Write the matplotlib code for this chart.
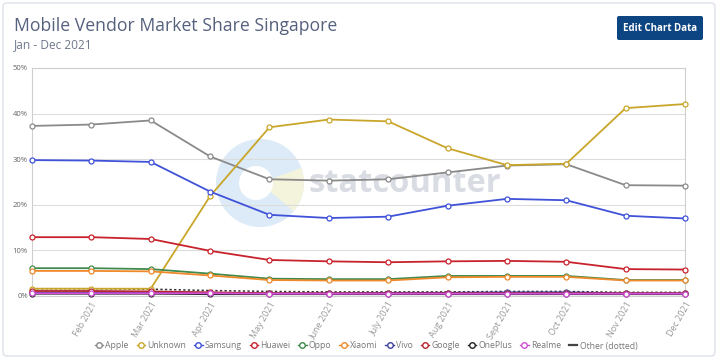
import matplotlib
matplotlib.use("Agg")
import matplotlib.pyplot as plt
from matplotlib.lines import Line2D
from matplotlib.patches import Circle, Wedge, FancyBboxPatch

plt.rcParams["font.family"] = ["Open Sans", "DejaVu Sans"]

# ---------------------------------------------------------------------------
# Dados
# ---------------------------------------------------------------------------

months = ["Jan 2021", "Feb 2021", "Mar 2021", "Apr 2021", "May 2021", "June 2021",
          "July 2021", "Aug 2021", "Sept 2021", "Oct 2021", "Nov 2021", "Dec 2021"]

apple = [37.3, 37.6, 38.5, 30.6, 25.6, 25.3, 25.6, 27.1, 28.6, 28.9, 24.3, 24.2]
unknown = [1.6, 1.6, 1.6, 21.9, 37.0, 38.7, 38.3, 32.4, 28.7, 29.0, 41.2, 42.1]
samsung = [29.8, 29.7, 29.4, 22.9, 17.8, 17.1, 17.4, 19.8, 21.3, 21.0, 17.6, 17.0]
huawei = [12.9, 12.9, 12.5, 9.9, 7.9, 7.6, 7.4, 7.6, 7.7, 7.5, 5.9, 5.8]
oppo = [6.1, 6.1, 5.9, 4.9, 3.8, 3.7, 3.7, 4.4, 4.4, 4.4, 3.5, 3.5]
xiaomi = [5.5, 5.5, 5.4, 4.5, 3.5, 3.4, 3.4, 4.1, 4.2, 4.2, 3.4, 3.4]
vivo = [0.8, 0.8, 0.8, 0.7, 0.6, 0.6, 0.7, 0.7, 0.8, 0.8, 0.6, 0.6]
google = [1.1, 1.1, 1.0, 0.8, 0.6, 0.6, 0.6, 0.6, 0.6, 0.6, 0.6, 0.6]
oneplus = [0.5, 0.5, 0.5, 0.4, 0.4, 0.4, 0.4, 0.4, 0.4, 0.4, 0.4, 0.4]
realme = [0.6, 0.6, 0.6, 0.6, 0.5, 0.5, 0.5, 0.5, 0.5, 0.5, 0.5, 0.5]
other = [1.6, 1.6, 1.5, 1.2, 1.0, 0.9, 0.9, 0.9, 1.0, 1.0, 0.8, 0.8]

series_names = ["Apple", "Unknown", "Samsung", "Huawei", "Oppo", "Xiaomi",
                "Vivo", "Google", "OnePlus", "Realme"]
series_values = [apple, unknown, samsung, huawei, oppo, xiaomi,
                 vivo, google, oneplus, realme]
series_colors = ["#8a8a8a", "#c9a62a", "#3f52d8", "#c8232c", "#3f8a4c", "#f0892a",
                 "#3b3f9e", "#b3262c", "#222222", "#d34fd8"]

yticks = [0, 10, 20, 30, 40, 50]

# ---------------------------------------------------------------------------
# Figura
# ---------------------------------------------------------------------------

fig = plt.figure(figsize=(7.2, 3.59), dpi=100)
fig.patch.set_facecolor("white")

# camada de fundo em coordenadas de pixel: cartão, botão, marca d'água
bg = fig.add_axes([0, 0, 1, 1], zorder=0)
bg.set_xlim(0, 720)
bg.set_ylim(359, 0)
bg.axis("off")
bg.add_patch(FancyBboxPatch((3, 3), 712, 353, boxstyle="round,pad=0,rounding_size=4",
                            facecolor="white", edgecolor="#dde2ea", linewidth=1.0))
bg.add_patch(FancyBboxPatch((617, 16), 86, 24, boxstyle="round,pad=0,rounding_size=2",
                            facecolor="#0c4581", edgecolor="none"))
bg.text(660, 28.5, "Edit Chart Data", fontsize=7, fontweight="bold",
        color="white", ha="center", va="center")
bg.add_patch(Circle((260, 183), 44, facecolor="#dcebf7", edgecolor="none"))
bg.add_patch(Wedge((260, 183), 44, -20, 40, facecolor="#f4f4dc", edgecolor="none"))
bg.add_patch(Circle((256, 183), 17, facecolor="white", edgecolor="none"))
bg.text(308, 183, "statcounter", fontsize=23.5, fontweight="bold", color="#d9dce3",
        ha="left", va="center")
bg.text(14, 31, "Mobile Vendor Market Share Singapore", fontsize=12.7,
        color="#55617d", va="baseline")
bg.text(14, 48, "Jan - Dec 2021", fontsize=8.6, color="#6f788c", va="baseline")

ax = fig.add_axes([32 / 720, 63 / 359, 653 / 720, 228 / 359], zorder=1)
ax.patch.set_alpha(0)

x = list(range(len(months)))

ax.plot(x, other, color="#333333", linewidth=1.1, linestyle=(0, (1.5, 1.5)), zorder=2)
for i, (name, vals, col) in enumerate(zip(series_names, series_values, series_colors)):
    ax.plot(x, vals, color=col, linewidth=1.3, marker="o", markersize=3.6,
            markerfacecolor="white", markeredgecolor=col, markeredgewidth=0.9,
            zorder=3 + i * 0.01, clip_on=False)

ax.set_xlim(0, len(months) - 1)
ax.set_ylim(0, 50)
ax.set_yticks(yticks)
ax.set_yticklabels([f"{v}%" for v in yticks], fontsize=5.5, color="#666666")
ax.set_xticks(x[1:])
ax.set_xticklabels(months[1:], rotation=60, ha="right", rotation_mode="anchor",
                   fontsize=6.5, color="#999999")
ax.tick_params(axis="both", length=0, pad=3)
ax.grid(axis="y", color="#dcdcdc", linewidth=0.8)
ax.set_axisbelow(True)
for sp in ax.spines.values():
    sp.set_color("#cfcfcf")
    sp.set_linewidth(0.8)

handles = [Line2D([0], [0], color=c, linewidth=1.0, marker="o", markersize=4,
                  markerfacecolor="white", markeredgecolor=c, markeredgewidth=1.0)
           for c in series_colors]
handles.append(Line2D([0], [0], color="#444444", linewidth=1.6))
labels = series_names + ["Other (dotted)"]
fig.legend(handles, labels, loc="center", bbox_to_anchor=(366 / 720, 1 - 346 / 359),
           ncol=len(labels), frameon=False, fontsize=6.2, handlelength=1.0,
           handletextpad=0.25, columnspacing=0.9, labelcolor="#777777")

fig.savefig("out.png", dpi=100)
